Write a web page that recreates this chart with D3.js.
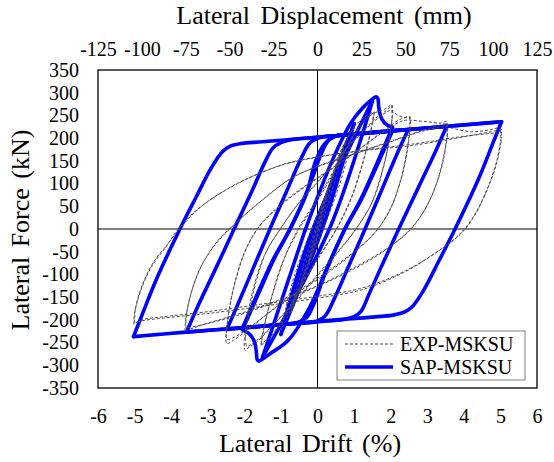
<!DOCTYPE html>
<html>
<head>
<meta charset="utf-8">
<script src="https://cdnjs.cloudflare.com/ajax/libs/d3/7.8.5/d3.min.js"></script>
<style>
  body { margin: 0; background: #fff; }
  svg text { font-family: "Liberation Serif", "Times New Roman", serif; fill: #000; }
</style>
</head>
<body>
<div id="chart"></div>
<script>
// tick labels
var driftTicks = [-6, -5, -4, -3, -2, -1, 0, 1, 2, 3, 4, 5, 6];
var dispTicks = [-125, -100, -75, -50, -25, 0, 25, 50, 75, 100, 125];
var forceTicks = [-350, -300, -250, -200, -150, -100, -50, 0, 50, 100, 150, 200, 250, 300, 350];

// SAP-MSKSU model, [drift %, force kN]
var sapSmall = [[0,0],[0.25,60],[0.0,-2],[-0.25,-60],[0.0,2],[0.5,120],[0.05,5],[-0.5,-120],[-0.05,-5],
  [0.75,178],[0.1,5],[-0.75,-178],[-0.1,-5],[1.0,232],[0.15,5],[-1.0,-232],[-0.15,-5],
  [1.5,282],[0.35,5],[-1.5,-282],[-0.35,-5]];
var sapNose = [[-0.35,-5],[0.4,150],[0.9,232],[1.25,268],[1.5,286],[1.6,291],[1.65,287],[1.67,272],[1.7,255],
  [1.76,242],[1.88,230],[2.05,224],[1.6,140],[1.2,68],[0.75,0],[0.3,-78],[-0.2,-170],[-0.8,-245],[-1.25,-272],
  [-1.5,-286],[-1.6,-291],[-1.65,-287],[-1.67,-272],[-1.7,-255],[-1.76,-242],[-1.88,-230],[-2.05,-222],
  [-1.6,-140],[-1.2,-68],[-0.75,0],[-0.3,78],[-0.05,150],[0.2,188],[0.45,203],[0.8,207],[1.5,212],[2.05,216],
  [1.6,135],[1.2,65],[0.75,0],[0.2,-100],[-0.1,-165],[-0.3,-195],[-0.55,-206],[-1.2,-212],[-2.05,-218],
  [-1.6,-135],[-1.2,-65],[-0.75,0],[-0.2,100],[0.1,165],[0.3,195],[0.55,206]];
var sap25 = [[0.55,206],[1.5,213],[2.48,219],[2.2,170],[1.75,85],[1.3,0],[0.85,-82],[0.45,-155],[0.2,-192],
  [-0.1,-205],[-0.6,-208],[-1.5,-214],[-2.48,-221],[-2.2,-170],[-1.75,-85],[-1.3,0],[-0.85,82],[-0.45,155],
  [-0.2,190],[0.1,202],[0.6,206],[1.5,213],[2.48,219]];
var sap35 = [[2.48,219],[3.0,222],[3.53,226],[3.25,175],[2.75,90],[2.22,0],[1.75,-82],[1.4,-145],[1.2,-180],
  [1.0,-193],[0.7,-199],[0,-204],[-1.5,-214],[-2.5,-220],[-3.58,-227],[-3.3,-175],[-2.8,-90],[-2.28,0],
  [-1.8,82],[-1.45,145],[-1.22,178],[-1.0,190],[-0.7,197],[0,202],[1.5,212],[2.5,219],[3.53,226]];
var sap50 = [[3.53,226],[4.3,231],[5.03,236],[4.8,190],[4.4,110],[3.76,0],[3.32,-70],[2.9,-135],[2.6,-170],
  [2.4,-182],[2.1,-189],[1.5,-194],[0.5,-200],[-1,-210],[-2.5,-220],[-3.6,-227],[-5.03,-237],[-4.8,-190],
  [-4.4,-110],[-3.76,0],[-3.32,70],[-2.9,135],[-2.6,170],[-2.4,182],[-2.1,188],[-1.5,192],[0,202],
  [2.5,219],[5.03,236]];

// EXP-MSKSU test, [drift %, force kN]
var exp025 = [[0,0],[0.12,38],[0.25,75],[0.16,45],[0.05,8],[-0.06,-22],[-0.25,-74],[-0.16,-44],[-0.05,-8],
  [0.06,22],[0.25,75]];
var exp050 = [[0.25,75],[0.38,110],[0.5,140],[0.38,100],[0.2,45],[0,-10],[-0.2,-70],[-0.38,-112],[-0.5,-138],
  [-0.38,-98],[-0.2,-45],[0,10],[0.2,70],[0.38,112],[0.5,140]];
var exp075 = [[0.5,140],[0.62,168],[0.75,190],[0.62,150],[0.4,85],[0.15,20],[-0.1,-40],[-0.4,-110],[-0.62,-165],
  [-0.75,-188],[-0.62,-148],[-0.4,-85],[-0.15,-20],[0.1,40],[0.4,112],[0.62,168],[0.75,190]];
var exp100 = [[0.75,190],[0.9,212],[1.0,225],[0.88,180],[0.65,110],[0.35,40],[0.05,-20],[-0.3,-85],[-0.65,-160],
  [-0.88,-205],[-1.0,-222],[-0.88,-178],[-0.65,-108],[-0.35,-38],[-0.05,20],[0.3,88],[0.65,165],[0.88,208],[1.0,225]];
var exp150a = [[1.0,225],[1.3,248],[1.55,258],[1.45,215],[1.25,150],[0.95,75],[0.55,5],[0.1,-55],[-0.4,-120],
  [-0.9,-195],[-1.3,-242],[-1.55,-256],[-1.45,-212],[-1.25,-148],[-0.95,-72],[-0.55,-3],[-0.1,55],[0.4,122],
  [0.9,195],[1.3,242],[1.55,256]];
var exp150b = [[1.55,256],[1.44,208],[1.22,140],[0.9,62],[0.48,-6],[0.02,-62],[-0.48,-128],[-0.95,-198],
  [-1.32,-240],[-1.54,-252],[-1.43,-205],[-1.2,-136],[-0.88,-60],[-0.46,6],[0.0,62],[0.5,132],[0.95,200],
  [1.32,240],[1.55,256]];
var exp200a = [[1.55,256],[1.8,262],[1.95,270],[2.03,274],[2.05,250],[1.97,200],[1.8,135],[1.5,60],[1.05,0],
  [0.5,-55],[0,-100],[-0.6,-158],[-1.2,-210],[-1.65,-248],[-1.9,-262],[-1.98,-267],[-2.0,-245],[-1.92,-195],
  [-1.75,-130],[-1.45,-58],[-1.0,2],[-0.5,58],[0,102],[0.6,160],[1.2,212],[1.65,248],[1.9,262],[2.03,272]];
var exp200b = [[2.03,272],[2.04,245],[1.95,192],[1.76,125],[1.45,52],[1.0,-6],[0.45,-62],[-0.05,-108],
  [-0.65,-165],[-1.25,-214],[-1.68,-246],[-1.93,-258],[-1.97,-240],[-1.88,-188],[-1.7,-122],[-1.4,-50],
  [-0.95,8],[-0.45,64],[0.05,108],[0.65,166],[1.25,214],[1.68,246],[1.95,260],[2.02,262]];
var exp250a = [[2.02,262],[2.2,250],[2.4,246],[2.52,248],[2.53,225],[2.45,175],[2.28,110],[2.0,45],[1.6,-5],
  [1.0,-50],[0.3,-92],[-0.5,-135],[-1.3,-182],[-1.9,-222],[-2.3,-245],[-2.48,-252],[-2.5,-230],[-2.42,-180],
  [-2.25,-115],[-1.98,-48],[-1.6,5],[-1.0,52],[-0.3,95],[0.5,138],[1.3,185],[1.9,222],[2.3,243],[2.52,247]];
var exp250b = [[2.52,247],[2.53,218],[2.44,165],[2.25,100],[1.95,38],[1.55,-10],[0.95,-55],[0.25,-98],
  [-0.55,-140],[-1.35,-186],[-1.95,-222],[-2.32,-240],[-2.47,-243],[-2.48,-222],[-2.4,-172],[-2.22,-108],
  [-1.94,-42],[-1.55,10],[-0.95,58],[-0.25,100],[0.55,142],[1.35,188],[1.95,222],[2.32,238],[2.5,240]];
var exp350a = [[2.5,240],[3.0,236],[3.35,233],[3.53,236],[3.55,210],[3.45,160],[3.25,100],[2.95,45],[2.5,-5],
  [1.8,-48],[1.0,-85],[0,-125],[-1.0,-155],[-2.0,-183],[-2.9,-205],[-3.4,-218],[-3.62,-224],[-3.6,-195],
  [-3.45,-140],[-3.2,-85],[-2.8,-35],[-2.3,8],[-1.6,58],[-0.75,110],[0,138],[1.0,165],[2.0,192],[2.8,215],
  [3.53,233]];
var exp350b = [[3.53,233],[3.55,205],[3.44,152],[3.22,92],[2.9,38],[2.42,-10],[1.7,-55],[0.9,-92],[-0.1,-130],
  [-1.1,-160],[-2.1,-188],[-2.95,-207],[-3.45,-216],[-3.6,-218],[-3.58,-188],[-3.42,-132],[-3.15,-78],
  [-2.75,-28],[-2.22,14],[-1.5,64],[-0.65,115],[0.1,140],[1.1,168],[2.1,196],[2.9,216],[3.5,226]];
var exp500a = [[3.5,226],[4.2,214],[4.7,218],[5.0,222],[5.02,200],[4.9,150],[4.65,90],[4.3,30],[3.9,-12],
  [3.35,-46],[2.5,-88],[1.3,-128],[0,-148],[-1.5,-165],[-3.0,-182],[-4.2,-193],[-4.8,-200],[-5.02,-210],
  [-5.0,-185],[-4.85,-140],[-4.55,-85],[-4.15,-40],[-3.85,-5],[-3.3,42],[-2.3,95],[-1.0,140],[0,158],
  [1.2,172],[2.6,184],[4.0,203],[5.0,218]];
var exp500b = [[5.0,218],[5.02,192],[4.88,140],[4.6,80],[4.22,22],[3.8,-18],[3.2,-54],[2.35,-96],[1.2,-134],
  [0,-152],[-1.5,-170],[-3.0,-186],[-4.2,-196],[-4.8,-202],[-5.0,-206],[-4.98,-178],[-4.82,-130],[-4.5,-75],
  [-4.08,-32],[-3.75,2],[-3.2,48],[-2.2,100],[-0.9,143],[0.1,160],[1.3,174],[2.7,188],[4.0,204],[4.95,212]];

var expCycles = [exp025, exp050, exp075, exp100, exp150a, exp150b, exp200a, exp200b,
                 exp250a, exp250b, exp350a, exp350b, exp500a, exp500b];
var sapCycles = [sapSmall, sapNose, sap25, sap35, sap50];

// cut a cycle into branches at every reversal of drift, so the
// smoothing keeps the peaks sharp
function splitBranches(pts) {
  var out = [], cur = [pts[0]], dir = 0;
  for (var i = 1; i < pts.length; i++) {
    var s = Math.sign(pts[i][0] - pts[i-1][0]);
    if (dir !== 0 && s !== 0 && s !== dir) {
      out.push(cur);
      cur = [pts[i-1]];
    }
    if (s !== 0) dir = s;
    cur.push(pts[i]);
  }
  out.push(cur);
  return out;
}

var sapBranches = [], expBranches = [];
sapCycles.forEach(function(c) { sapBranches = sapBranches.concat(splitBranches(c)); });
expCycles.forEach(function(c) { expBranches = expBranches.concat(splitBranches(c)); });

var width = 554, height = 462,
    plotLeft = 98, plotRight = 537, plotTop = 70, plotBottom = 388;

var svg = d3.select("#chart").append("svg")
  .attr("width", width)
  .attr("height", height);

var x = d3.scaleLinear().domain([-6, 6]).range([plotLeft, plotRight]);
var xTop = d3.scaleLinear().domain([-125, 125]).range([plotLeft, plotRight]);
var y = d3.scaleLinear().domain([-350, 350]).range([plotBottom, plotTop]);

svg.append("clipPath").attr("id", "clip")
  .append("rect")
  .attr("x", plotLeft).attr("y", plotTop)
  .attr("width", plotRight - plotLeft).attr("height", plotBottom - plotTop);

// zero lines
svg.append("line")
  .attr("x1", x(0)).attr("x2", x(0)).attr("y1", plotTop).attr("y2", plotBottom)
  .style("stroke", "#000").style("stroke-width", 1);
svg.append("line")
  .attr("x1", plotLeft).attr("x2", plotRight).attr("y1", y(0)).attr("y2", y(0))
  .style("stroke", "#000").style("stroke-width", 1);

var line = d3.line()
  .x(function(d) { return x(d[0]); })
  .y(function(d) { return y(d[1]); })
  .curve(d3.curveCatmullRom.alpha(0.5));

var plot = svg.append("g").attr("clip-path", "url(#clip)");

plot.selectAll("path.sap")
  .data(sapBranches).enter()
  .append("path")
  .attr("class", "sap")
  .attr("d", line)
  .style("fill", "none")
  .style("stroke", "#0000ff")
  .style("stroke-width", 3.6)
  .style("stroke-linejoin", "round")
  .style("stroke-linecap", "round");

plot.selectAll("path.exp")
  .data(expBranches).enter()
  .append("path")
  .attr("class", "exp")
  .attr("d", line)
  .style("fill", "none")
  .style("stroke", "#4d4d4d")
  .style("stroke-width", 1)
  .style("stroke-dasharray", "3,2");

// plot frame
svg.append("rect")
  .attr("x", plotLeft).attr("y", plotTop)
  .attr("width", plotRight - plotLeft).attr("height", plotBottom - plotTop)
  .style("fill", "none").style("stroke", "#000").style("stroke-width", 1.3);

// axes (labels only)
var fmt = function(d) { return String(d); };

var gBottom = svg.append("g")
  .attr("transform", "translate(0," + plotBottom + ")")
  .call(d3.axisBottom(x).tickValues(driftTicks).tickFormat(fmt).tickSize(0).tickPadding(21));
var gTop = svg.append("g")
  .attr("transform", "translate(0," + plotTop + ")")
  .call(d3.axisTop(xTop).tickValues(dispTicks).tickFormat(fmt).tickSize(0).tickPadding(14));
var gLeft = svg.append("g")
  .attr("transform", "translate(" + plotLeft + ",0)")
  .call(d3.axisLeft(y).tickValues(forceTicks).tickFormat(fmt).tickSize(0).tickPadding(19));

[gBottom, gTop, gLeft].forEach(function(g) {
  g.select(".domain").remove();
  g.selectAll("text")
    .style("font-family", "'Liberation Serif', 'Times New Roman', serif")
    .style("font-size", "20px")
    .style("fill", "#000");
});

// axis titles
svg.append("text")
  .attr("x", 324).attr("y", 24)
  .attr("text-anchor", "middle")
  .style("font-size", "26px")
  .style("word-spacing", "4px")
  .text("Lateral Displacement (mm)");

svg.append("text")
  .attr("x", 310).attr("y", 452)
  .attr("text-anchor", "middle")
  .style("font-size", "26px")
  .style("word-spacing", "3px")
  .text("Lateral Drift (%)");

svg.append("text")
  .attr("transform", "translate(29," + 230 + ") rotate(-90)")
  .attr("text-anchor", "middle")
  .style("font-size", "26px")
  .style("word-spacing", "3px")
  .text("Lateral Force (kN)");

// legend
var legend = svg.append("g");
legend.append("rect")
  .attr("x", 337).attr("y", 331)
  .attr("width", 188).attr("height", 49)
  .style("fill", "#fff").style("stroke", "#808080").style("stroke-width", 1);
legend.append("line")
  .attr("x1", 345).attr("x2", 393).attr("y1", 344).attr("y2", 344)
  .style("stroke", "#4d4d4d").style("stroke-width", 1).style("stroke-dasharray", "3,2");
legend.append("text")
  .attr("x", 400).attr("y", 351)
  .style("font-size", "20px")
  .text("EXP-MSKSU");
legend.append("line")
  .attr("x1", 345).attr("x2", 393).attr("y1", 367).attr("y2", 367)
  .style("stroke", "#0000ff").style("stroke-width", 3.6);
legend.append("text")
  .attr("x", 400).attr("y", 374)
  .style("font-size", "20px")
  .text("SAP-MSKSU");
</script>
</body>
</html>
